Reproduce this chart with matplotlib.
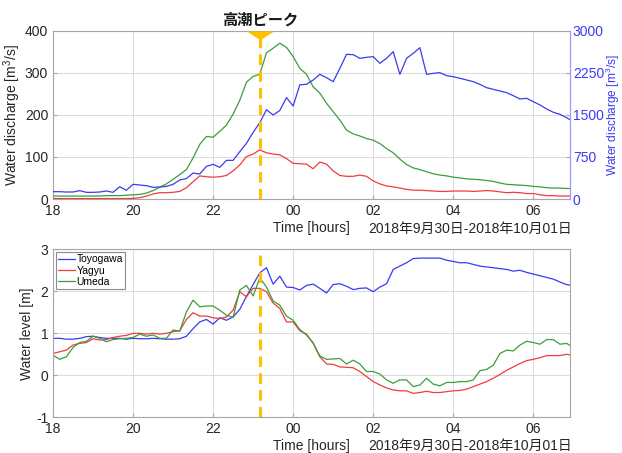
import numpy as np
import pandas as pd
import matplotlib
matplotlib.use('Agg')
import matplotlib.pyplot as plt
import matplotlib.dates as mdates
import matplotlib.transforms as mtrans

plt.rcParams['font.family'] = ['Liberation Sans', 'Noto Sans CJK JP']
plt.rcParams['font.size'] = 10
plt.rcParams['mathtext.default'] = 'regular'
plt.rcParams['axes.unicode_minus'] = False

# 10-minute records, 2018-09-30 18:00 -> 2018-10-01 07:00
times = pd.date_range('2018-09-30 18:00', periods=79, freq='10min')
peak_time = pd.Timestamp('2018-09-30 23:10')
date_text = '2018年9月30日-2018年10月01日'
names = ['Toyogawa', 'Yagyu', 'Umeda']

# discharge [m3/s]; Toyogawa on the right axis
q_toyo = [131, 131, 125, 125, 149, 119, 119, 125, 143, 119,
          220, 155, 262, 250, 238, 208, 214, 226, 262, 340,
          364, 464, 446, 583, 619, 565, 690, 690, 845, 994,
          1190, 1363, 1595, 1500, 1580, 1810, 1660, 2040, 2048, 2125,
          2226, 2166, 2095, 2333, 2583, 2577, 2512, 2530, 2542, 2423,
          2512, 2631, 2226, 2512, 2601, 2702, 2226, 2244, 2256, 2202,
          2184, 2155, 2125, 2095, 2047, 1988, 1958, 1929, 1899, 1845,
          1786, 1798, 1738, 1679, 1607, 1548, 1512, 1452, 1381]
q_yagyu = [1, 1, 1, 1, 1, 1, 1, 1, 1, 1,
           1, 1, 1.5, 3, 7, 12, 15, 15, 16, 18,
           27, 41, 55, 53, 52, 53, 56, 67, 81, 101,
           107, 117, 110, 107, 105, 96, 85, 84, 83, 72,
           88, 83, 67, 56, 54, 54, 57, 54, 43, 36,
           31, 29, 26, 23, 21, 21, 20, 19, 18, 18,
           19, 19, 19, 18, 19, 20, 19, 17, 15, 16,
           15, 13, 13, 10, 8, 8, 7, 7, 7]
q_umeda = [7, 7, 7, 7, 7, 7, 7, 7, 8, 8,
           8, 9, 10, 11, 14, 20, 28, 36, 47, 58,
           70, 98, 130, 149, 147, 161, 176, 202, 235, 278,
           292, 297, 348, 359, 371, 361, 339, 311, 297, 267,
           252, 228, 208, 188, 164, 155, 150, 144, 140, 132,
           120, 110, 95, 82, 74, 70, 65, 60, 57, 55,
           52, 50, 48, 47, 46, 44, 42, 38, 35, 34,
           33, 32, 30, 29, 27, 26, 26, 25, 25]

# water level [m]
h_toyo = [0.88, 0.88, 0.86, 0.86, 0.88, 0.92, 0.93, 0.90, 0.88, 0.88,
          0.88, 0.86, 0.88, 0.87, 0.87, 0.88, 0.87, 0.86, 0.86, 0.87,
          0.93, 1.11, 1.27, 1.33, 1.22, 1.37, 1.31, 1.39, 1.57, 1.88,
          2.16, 2.44, 2.56, 2.17, 2.36, 2.10, 2.09, 2.03, 2.14, 2.17,
          2.07, 1.96, 2.16, 2.18, 2.12, 2.04, 2.07, 2.08, 1.99, 2.10,
          2.18, 2.52, 2.60, 2.68, 2.78, 2.79, 2.79, 2.79, 2.79, 2.74,
          2.71, 2.68, 2.68, 2.64, 2.60, 2.58, 2.56, 2.54, 2.52, 2.48,
          2.50, 2.45, 2.41, 2.37, 2.33, 2.29, 2.22, 2.16, 2.13]
h_yagyu = [0.52, 0.56, 0.60, 0.72, 0.76, 0.78, 0.87, 0.84, 0.85, 0.90,
           0.93, 0.95, 1.00, 1.00, 0.98, 1.00, 0.98, 1.00, 1.04, 1.06,
           1.33, 1.49, 1.41, 1.41, 1.37, 1.35, 1.39, 1.55, 1.99, 1.87,
           2.07, 2.07, 1.99, 1.72, 1.59, 1.27, 1.27, 1.06, 0.98, 0.76,
           0.44, 0.27, 0.26, 0.20, 0.19, 0.18, 0.09, -0.03, -0.15, -0.23,
           -0.30, -0.35, -0.37, -0.37, -0.43, -0.41, -0.38, -0.41, -0.41, -0.39,
           -0.37, -0.36, -0.33, -0.27, -0.21, -0.15, -0.07, 0.02, 0.12, 0.20,
           0.28, 0.35, 0.38, 0.42, 0.47, 0.47, 0.47, 0.50, 0.47]
h_umeda = [0.48, 0.38, 0.44, 0.66, 0.78, 0.81, 0.93, 0.88, 0.80, 0.85,
           0.87, 0.88, 0.90, 0.98, 0.93, 0.96, 0.88, 0.88, 1.08, 1.05,
           1.51, 1.79, 1.63, 1.65, 1.65, 1.55, 1.43, 1.38, 2.03, 2.14,
           1.89, 2.32, 2.10, 1.77, 1.67, 1.41, 1.31, 1.09, 0.96, 0.77,
           0.46, 0.38, 0.39, 0.40, 0.27, 0.36, 0.27, 0.09, 0.09, 0.03,
           -0.11, -0.19, -0.11, -0.11, -0.27, -0.23, -0.07, -0.21, -0.25, -0.17,
           -0.17, -0.15, -0.15, -0.11, 0.11, 0.14, 0.24, 0.52, 0.60, 0.58,
           0.72, 0.81, 0.78, 0.74, 0.85, 0.85, 0.74, 0.76, 0.66]

c_blue = '#3a3af2'
c_red = '#f03c3c'
c_green = '#3a9e3a'
c_peak = '#ffc000'
c_axis = '#a6a6a6'
c_text = '#262626'
xmax = pd.Timestamp('2018-10-01 06:55')


def style_axes(ax):
    ax.set_xlim(times[0], xmax)
    ax.xaxis.set_major_locator(mdates.HourLocator(byhour=range(0, 24, 2)))
    ax.xaxis.set_major_formatter(mdates.DateFormatter('%H'))
    ax.grid(True, color='#dcdcdc', lw=0.8)
    ax.set_axisbelow(True)
    for s in ax.spines.values():
        s.set_color(c_axis)
        s.set_linewidth(0.8)
    ax.tick_params(direction='in', length=3, color=c_axis, labelcolor=c_text,
                   labelsize=10)
    ax.set_xlabel('Time [hours]', color=c_text, labelpad=2)


fig = plt.figure(figsize=(6.22, 4.53), dpi=100)
ax1 = fig.add_axes([0.0852, 0.5607, 0.8312, 0.3709])
ax2 = fig.add_axes([0.0852, 0.0788, 0.8312, 0.3709])

# top: discharge
ax1r = ax1.twinx()
ax1.plot(times, q_yagyu, color=c_red, lw=0.9, zorder=3)
ax1.plot(times, q_umeda, color=c_green, lw=0.9, zorder=3)
ax1r.plot(times, q_toyo, color=c_blue, lw=0.9)
ax1.set_ylim(0, 400)
ax1.set_yticks([0, 100, 200, 300, 400])
ax1r.set_ylim(0, 3000)
ax1r.set_yticks([0, 750, 1500, 2250, 3000])
style_axes(ax1)
ax1.set_ylabel('Water discharge [m$^3$/s]', color=c_text, labelpad=1)
ax1r.set_xlim(times[0], xmax)
for s in ax1r.spines.values():
    s.set_visible(False)
ax1r.spines['right'].set_visible(True)
ax1r.spines['right'].set_color('#9a9aff')
ax1r.tick_params(direction='in', length=3, pad=2, color='#9a9aff',
                 labelcolor=c_blue, labelsize=10)
# right label squeezed against the figure edge, as in the source figure
ax1r.set_ylabel('Water discharge [m$^3$/s]', color=c_blue, fontsize=8.6)
ax1r.yaxis.set_label_coords(1.066, 0.5)

ax1r.axvline(peak_time, color=c_peak, lw=2.2, ls=(0, (3.5, 2)))
ax1r.plot([peak_time], [3000], marker=[(-1, 0), (1, 0), (0, -0.65)], ms=19.5,
          color=c_peak, mew=0, clip_on=False, zorder=5)
trans = mtrans.blended_transform_factory(ax1.transData, ax1.transAxes)
ax1.text(peak_time, 1.066, '高潮ピーク', transform=trans, ha='center', va='center',
         fontsize=11, fontweight='bold', color='#1a1a1a')

# bottom: water level
ax2.plot(times, h_toyo, color=c_blue, lw=0.9, label=names[0])
ax2.plot(times, h_yagyu, color=c_red, lw=0.9, label=names[1])
ax2.plot(times, h_umeda, color=c_green, lw=0.9, label=names[2])
ax2.axvline(peak_time, color=c_peak, lw=2.2, ls=(0, (3.5, 2)))
ax2.set_ylim(-1, 3)
ax2.set_yticks([-1, 0, 1, 2, 3])
style_axes(ax2)
ax2.set_ylabel('Water level [m]', color=c_text, labelpad=1)
leg = ax2.legend(loc='upper left', fontsize=7.5, frameon=True, fancybox=False,
                 edgecolor='#8c8c8c', framealpha=1, borderaxespad=0.25,
                 borderpad=0.25, labelspacing=0.1, handlelength=1.6,
                 handletextpad=0.15)
leg.get_frame().set_linewidth(0.8)

for y in (1 - 229 / 453, 1 - 446 / 453):
    fig.text(368 / 622, y, date_text, ha='left', va='center', fontsize=10,
             color=c_text)

fig.savefig('out.png', dpi=100)
